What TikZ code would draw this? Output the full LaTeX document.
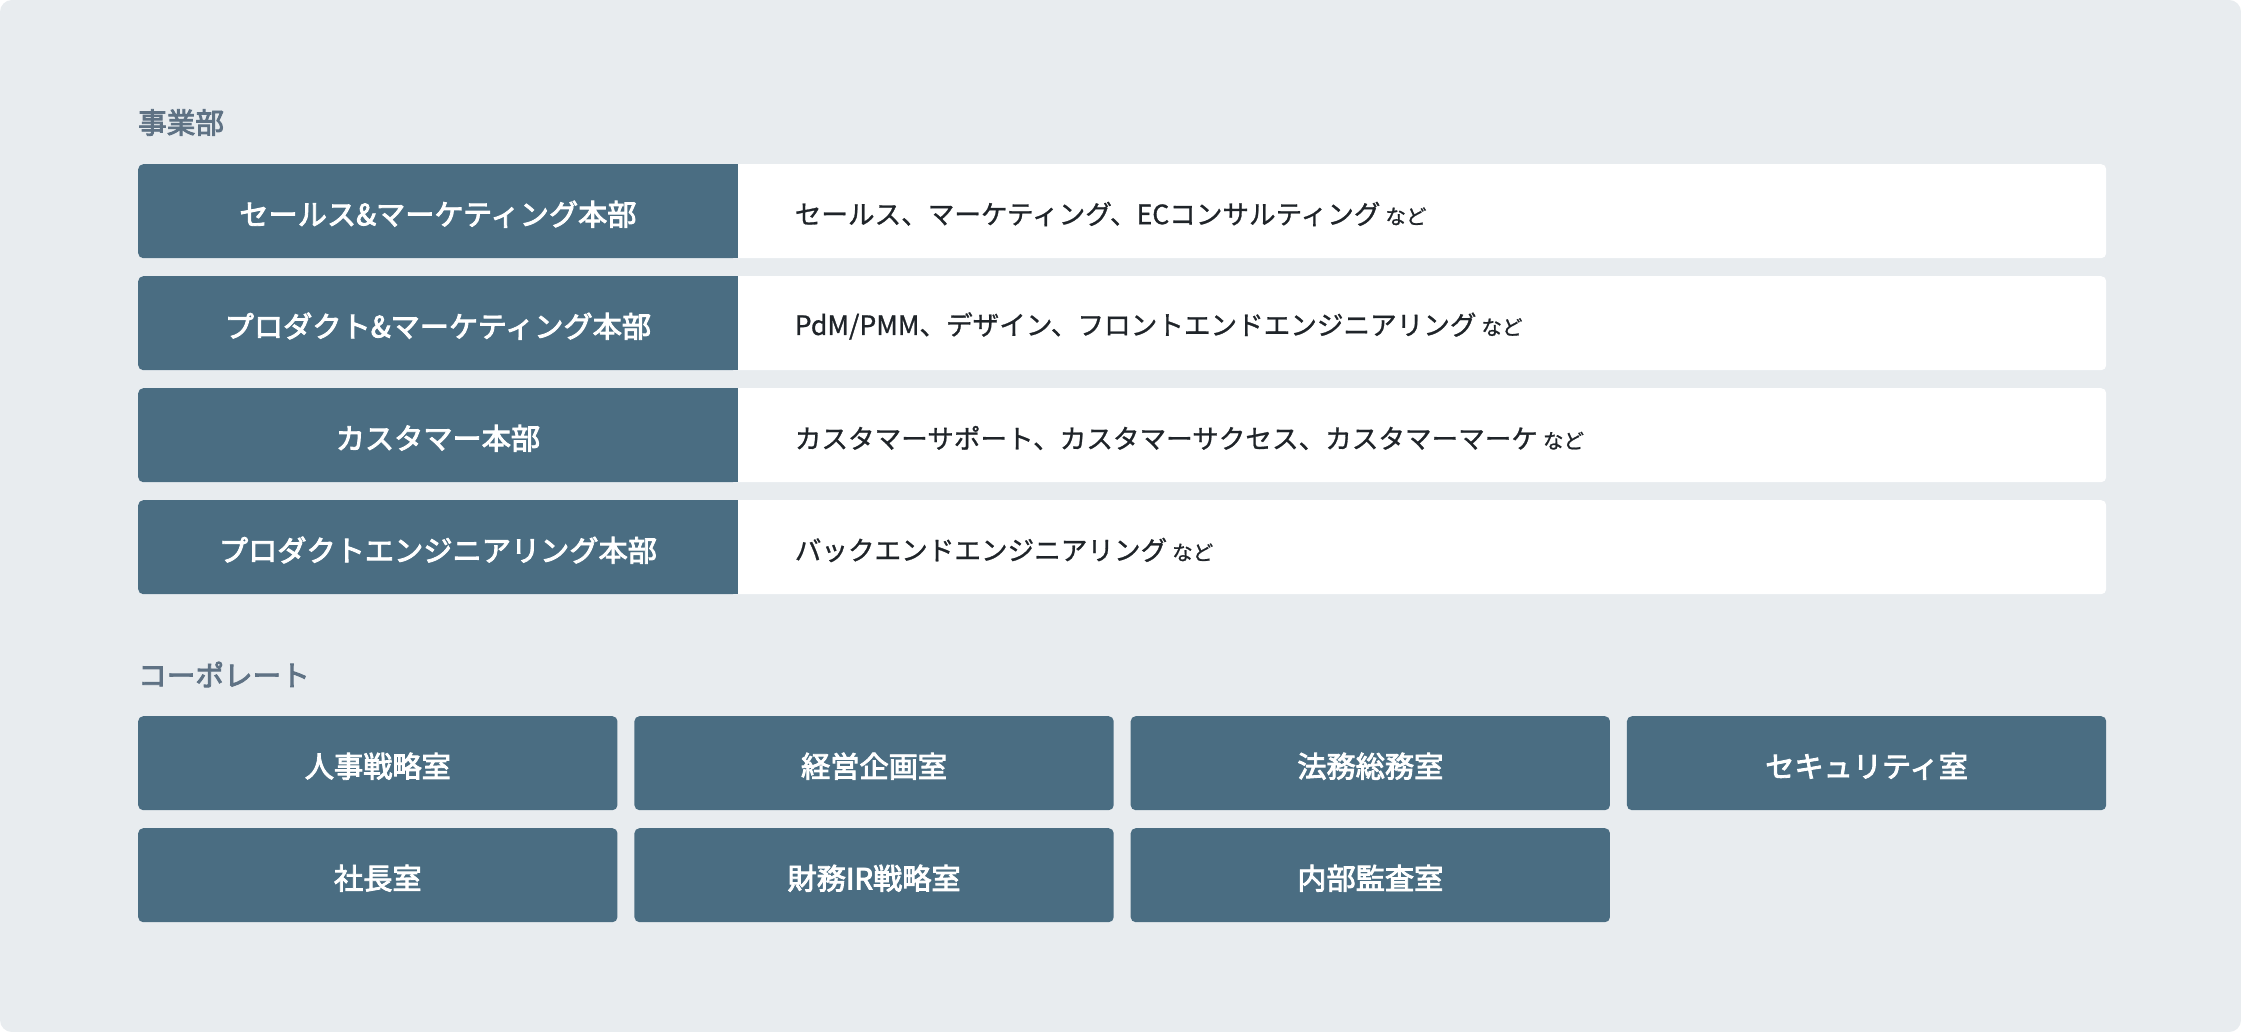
\documentclass[tikz,border=0pt]{standalone}
\usepackage{fontspec}
\setmainfont{Noto Sans CJK JP}
\newfontfamily\medfont{Noto Sans CJK JP}[FakeBold=3]
\newfontfamily\lightmed{Noto Sans CJK JP}[FakeBold=1]
\definecolor{bgc}{HTML}{E8ECEF}
\definecolor{navy}{HTML}{4A6D82}
\definecolor{headc}{HTML}{5F7284}
\definecolor{txtc}{HTML}{1F2429}
\newcommand{\nado}{\hspace{5pt}{\fontsize{20.5}{24}\selectfont など}}
\tikzset{
  headlbl/.style={anchor=west, inner sep=0pt, text=headc, font=\medfont\fontsize{28.6}{34}\selectfont},
  rowbg/.style={fill=white, rounded corners=5pt, draw=none, anchor=north west, inner sep=0pt, minimum width=1968pt, minimum height=94pt},
  deptbox/.style={fill=navy, rounded corners=5pt, draw=none, anchor=north west, inner sep=0pt, minimum width=599.5pt, minimum height=94pt},
  depttxt/.style={text=white, font=\medfont\fontsize{29.2}{34}\selectfont, inner sep=0pt},
  desctxt/.style={anchor=west, text=txtc, inner sep=0pt, font=\lightmed\fontsize{26.6}{30}\selectfont},
  corpbox/.style={fill=navy, rounded corners=5pt, draw=none, anchor=north west, inner sep=0pt, minimum width=479.25pt, minimum height=94pt},
  corptxt/.style={text=white, font=\medfont\fontsize{29.2}{34}\selectfont, inner sep=0pt},
}
\begin{document}
\begin{tikzpicture}[x=1pt,y=-1pt]
\useasboundingbox (0,0) rectangle (2241,1032);
\fill[white] (0,0) rectangle (2241,1032);
\fill[bgc, rounded corners=12pt] (0,0) rectangle (2241,1032);

\node[headlbl] (h1) at (138,122.5) {事業部};

\foreach \i/\y/\dept/\desc in {
  1/164/セールス\&マーケティング本部/{セールス、マーケティング、ECコンサルティング\nado},
  2/276/プロダクト\&マーケティング本部/{PdM/PMM、デザイン、フロントエンドエンジニアリング\nado},
  3/388/カスタマー本部/{カスタマーサポート、カスタマーサクセス、カスタマーマーケ\nado},
  4/500/プロダクトエンジニアリング本部/{バックエンドエンジニアリング\nado}}{
  \node[rowbg] (row\i) at (138,\y) {};
  \node[deptbox] (box\i) at (138,\y) {};
  \fill[navy] (box\i.north east) ++(-8,0) rectangle (box\i.south east);
  \node[depttxt] (dt\i) at ([yshift=-3pt]box\i.center) {\dept};
  \node[desctxt] (dd\i) at (794.6,\y+50) {\desc};
}

\node[headlbl] (h2) at (138,674.5) {コーポレート};

\foreach \i/\x/\y/\t in {
  1/138/716/人事戦略室, 2/634.25/716/経営企画室, 3/1130.5/716/法務総務室, 4/1626.75/716/セキュリティ室,
  5/138/828/社長室, 6/634.25/828/財務IR戦略室, 7/1130.5/828/内部監査室}{
  \node[corpbox] (c\i) at (\x,\y) {};
  \node[corptxt] (ct\i) at ([yshift=-3pt]c\i.center) {\t};
}
\end{tikzpicture}
\end{document}
